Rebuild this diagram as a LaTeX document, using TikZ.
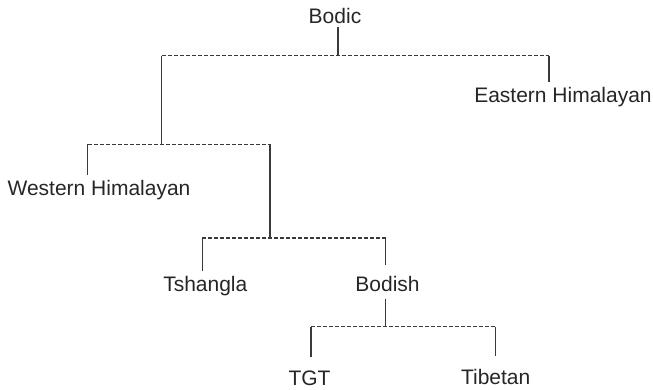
\documentclass[tikz,border=0pt]{standalone}
\usepackage{fontspec}
\setmainfont{Liberation Sans}
\usetikzlibrary{calc}
\definecolor{txt}{HTML}{262626}
\definecolor{ln}{HTML}{3A3A3A}
\begin{document}
\begin{tikzpicture}[x=1pt,y=-1pt,
  lbl/.style={anchor=base,inner sep=0pt,font=\fontsize{21}{25}\selectfont,text=txt},
  solidln/.style={draw=ln,line width=1.3pt},
  dashln/.style={draw=ln,line width=1.1pt,dash pattern=on 4pt off 2pt}]
\useasboundingbox (0,0) rectangle (653,389);
% labels
\node[lbl] (bodic)  at (335,23)      {Bodic};
\node[lbl] (east)   at (563,102)     {Eastern Himalayan};
\node[lbl] (west)   at (99,195)      {Western Himalayan};
\node[lbl] (tsh)    at (205.3,291.5) {Tshangla};
\node[lbl] (bodish) at (387.5,291.5) {Bodish};
\node[lbl] (tgt)    at (309.5,385)   {TGT};
\node[lbl] (tib)    at (495.7,384.5) {Tibetan};
% junctions
\coordinate (j0) at (338,55.5);
\coordinate (a1) at (161.7,55.5);  \coordinate (a2) at (549,55.5);
\coordinate (b1) at (87.7,144.3);  \coordinate (b2) at (270,144.3);
\coordinate (c1) at (202.3,238);   \coordinate (c2) at (385.7,238);
\coordinate (d1) at (311,326.7);   \coordinate (d2) at (495.7,326.7);
% Bodic
\draw[solidln] ($(bodic.base -| j0)+(0,4)$) -- (j0);
\draw[dashln] (a1) -- (a2);
\draw[solidln] (a2) -- ($(a2 |- east.north)+(0,-5)$);
\draw[solidln] (a1) -- (a1 |- b1);
% Western branch
\draw[dashln] (b1) -- (b2);
\draw[solidln] (b1) -- ($(b1 |- west.north)+(0,-5)$);
\draw[solidln] (b2) -- (b2 |- c1);
% Tshangla / Bodish
\draw[dashln] (c1) -- (c2);
\draw[solidln] (c1) -- ($(c1 |- tsh.north)+(0,-5)$);
\draw[solidln] (c2) -- ($(c2 |- bodish.north)+(0,-11)$);
\draw[solidln] ($(c2 |- bodish.base)+(0,7)$) -- (c2 |- d1);
% TGT / Tibetan
\draw[dashln] (d1) -- (d2);
\draw[solidln] (d1) -- ($(d1 |- tgt.north)+(0,-13)$);
\draw[solidln] (d2) -- ($(d2 |- tib.north)+(0,-13)$);
\end{tikzpicture}
\end{document}
